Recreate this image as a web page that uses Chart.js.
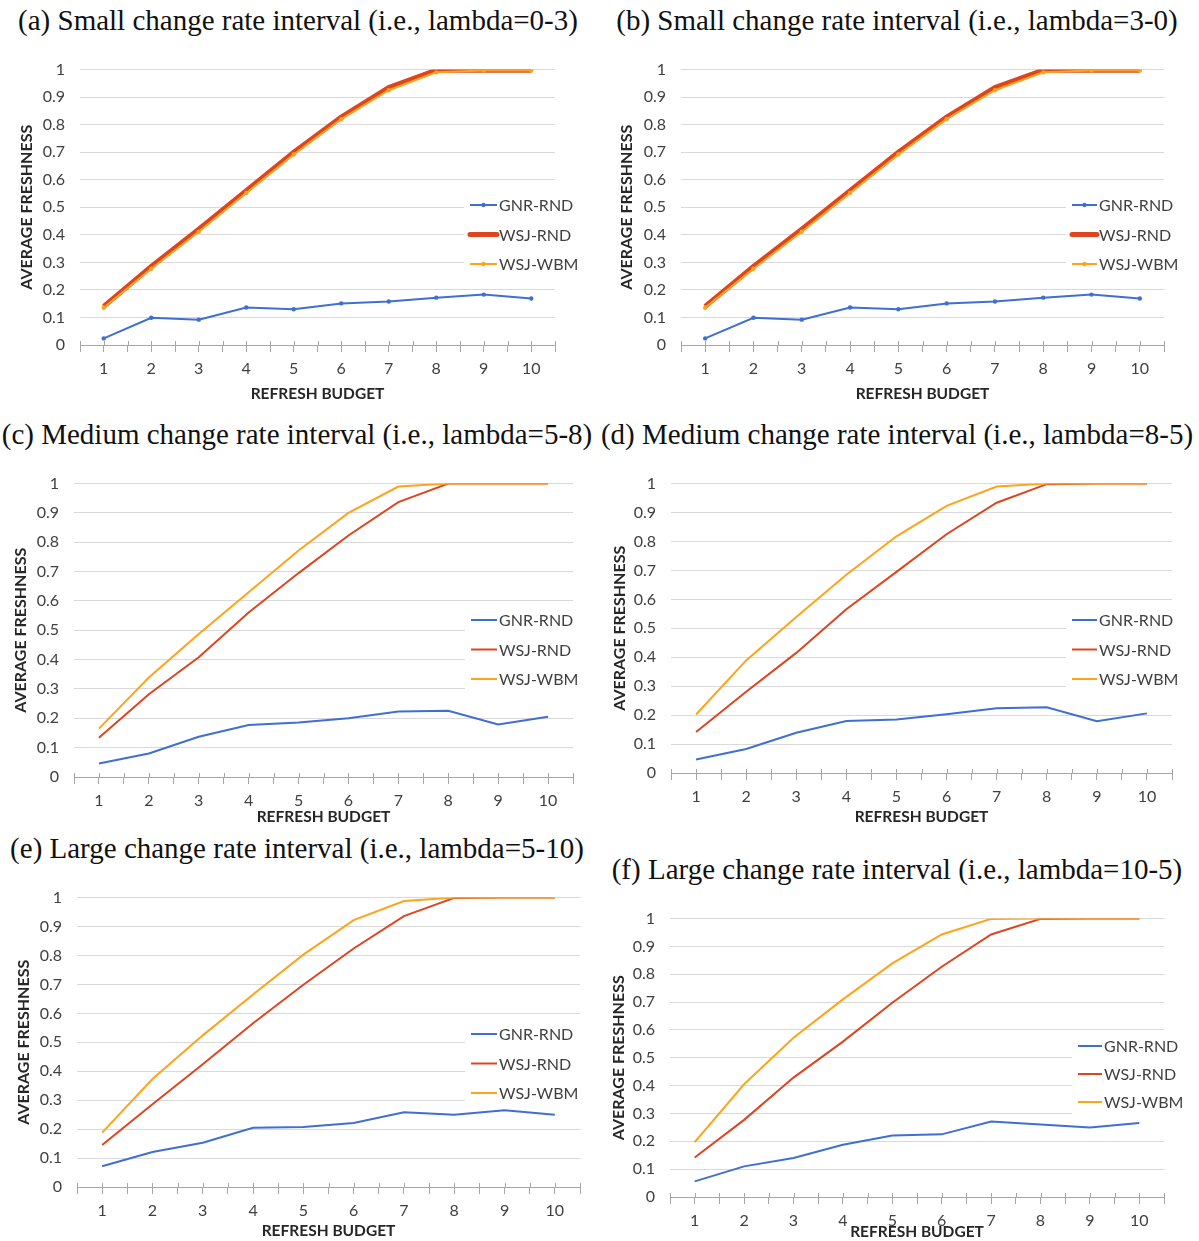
<!DOCTYPE html>
<html><head><meta charset="utf-8">
<script src="https://cdn.jsdelivr.net/npm/chart.js@4.4.1/dist/chart.umd.min.js"></script>
<style>
html,body{margin:0;padding:0;background:#fff;}
#wrap{position:relative;width:1199px;height:1241px;overflow:hidden;background:#fff;}
.ttl{position:absolute;font-family:"Liberation Serif","Times New Roman",serif;font-size:29px;color:#111;white-space:nowrap;transform:translate(-50%,-50%);line-height:1;}
canvas{position:absolute;}
</style></head><body><div id="wrap"></div>
<script>
// ---------- DATA ----------
const categories = [1, 2, 3, 4, 5, 6, 7, 8, 9, 10];
const yTickLabels = ['0', '0.1', '0.2', '0.3', '0.4', '0.5', '0.6', '0.7', '0.8', '0.9', '1'];
const seriesNames = ['GNR-RND', 'WSJ-RND', 'WSJ-WBM'];
const panelTitles = [
  '(a) Small change rate interval (i.e., lambda=0-3)',
  '(b) Small change rate interval (i.e., lambda=3-0)',
  '(c) Medium change rate interval (i.e., lambda=5-8)',
  '(d) Medium change rate interval (i.e., lambda=8-5)',
  '(e) Large change rate interval (i.e., lambda=5-10)',
  '(f) Large change rate interval (i.e., lambda=10-5)'
];
const xAxisTitle = 'REFRESH BUDGET';
const yAxisTitle = 'AVERAGE FRESHNESS';

const gnrA    = [0.024, 0.099, 0.092, 0.136, 0.130, 0.151, 0.158, 0.172, 0.183, 0.169];
const wsjRndA = [0.140, 0.285, 0.420, 0.560, 0.700, 0.828, 0.935, 0.998, 0.998, 0.998];
const wsjWbmA = [0.135, 0.277, 0.411, 0.552, 0.692, 0.820, 0.925, 0.990, 0.997, 0.997];

const gnrB    = [0.024, 0.099, 0.092, 0.136, 0.130, 0.151, 0.158, 0.172, 0.183, 0.169];
const wsjRndB = [0.140, 0.285, 0.420, 0.560, 0.700, 0.828, 0.935, 0.998, 0.998, 0.998];
const wsjWbmB = [0.135, 0.277, 0.411, 0.552, 0.692, 0.820, 0.925, 0.990, 0.997, 0.997];

const gnrC    = [0.046, 0.080, 0.137, 0.177, 0.186, 0.200, 0.223, 0.226, 0.179, 0.205];
const wsjRndC = [0.134, 0.282, 0.408, 0.561, 0.695, 0.823, 0.937, 1.000, 1.000, 1.000];
const wsjWbmC = [0.165, 0.339, 0.487, 0.630, 0.772, 0.900, 0.990, 1.000, 1.000, 1.000];

const gnrD    = [0.047, 0.083, 0.139, 0.180, 0.185, 0.203, 0.224, 0.227, 0.179, 0.206];
const wsjRndD = [0.142, 0.281, 0.415, 0.566, 0.695, 0.825, 0.934, 0.998, 1.000, 1.000];
const wsjWbmD = [0.202, 0.389, 0.539, 0.685, 0.818, 0.923, 0.990, 1.000, 1.000, 1.000];

const gnrE    = [0.072, 0.121, 0.153, 0.205, 0.207, 0.221, 0.258, 0.250, 0.265, 0.250];
const wsjRndE = [0.145, 0.286, 0.424, 0.566, 0.699, 0.824, 0.936, 0.999, 1.000, 1.000];
const wsjWbmE = [0.188, 0.373, 0.524, 0.665, 0.803, 0.922, 0.988, 1.000, 1.000, 1.000];

const gnrF    = [0.056, 0.110, 0.140, 0.188, 0.221, 0.225, 0.271, 0.260, 0.250, 0.266];
const wsjRndF = [0.142, 0.277, 0.429, 0.558, 0.698, 0.827, 0.943, 0.999, 1.000, 1.000];
const wsjWbmF = [0.197, 0.405, 0.572, 0.710, 0.839, 0.943, 0.999, 1.000, 1.000, 1.000];

// ---------- STYLE / LAYOUT ----------
const COLORS = ['#3f6fd3', '#dd4520', '#ffa31a'];
const TEXT = '#404040';
const FONT = 'Lato, "Open Sans", sans-serif';
const TICK_FONT = 16;
const XTITLE_FONT = 15.5;
const YTITLE_FONT = 16;

const panels = [
  {title: panelTitles[0], tx: 298, ty: 20,  plot: {l: 80,  t: 69,  r: 555,  b: 345},  yTitleX: 27,  xTitleY: 394,  legX: 470,  legTxtX: 499,  legY: 205,  legDy: 29.5, thick: true,  data: [gnrA, wsjRndA, wsjWbmA]},
  {title: panelTitles[1], tx: 897, ty: 20,  plot: {l: 681, t: 69,  r: 1164, b: 345},  yTitleX: 627, xTitleY: 394,  legX: 1072, legTxtX: 1099, legY: 205,  legDy: 29.5, thick: true,  data: [gnrB, wsjRndB, wsjWbmB]},
  {title: panelTitles[2], tx: 297, ty: 434, plot: {l: 74,  t: 483, r: 573,  b: 777},  yTitleX: 21,  xTitleY: 817,  legX: 471,  legTxtX: 499,  legY: 620,  legDy: 29.5, thick: false, data: [gnrC, wsjRndC, wsjWbmC]},
  {title: panelTitles[3], tx: 897, ty: 434, plot: {l: 671, t: 483, r: 1172, b: 773},  yTitleX: 620, xTitleY: 817,  legX: 1072, legTxtX: 1099, legY: 620,  legDy: 29.5, thick: false, data: [gnrD, wsjRndD, wsjWbmD]},
  {title: panelTitles[4], tx: 297, ty: 848, plot: {l: 77,  t: 897, r: 583,  b: 1187}, yTitleX: 24,  xTitleY: 1231, legX: 471,  legTxtX: 499,  legY: 1034, legDy: 29.5, thick: false, data: [gnrE, wsjRndE, wsjWbmE]},
  {title: panelTitles[5], tx: 897, ty: 869, plot: {l: 670, t: 918, r: 1164, b: 1197}, yTitleX: 619, xTitleY: 1232, legX: 1078, legTxtX: 1104, legY: 1046, legDy: 28,   thick: false, data: [gnrF, wsjRndF, wsjWbmF]}
];

const wrap = document.getElementById('wrap');

const crossTicks = {
  id: 'crossTicks',
  afterDraw(chart) {
    const xs = chart.scales.x, ctx = chart.ctx, yb = chart.chartArea.bottom;
    ctx.save();
    ctx.strokeStyle = '#a6a6a6';
    ctx.lineWidth = 1;
    xs.ticks.forEach(t => {
      const px = Math.round(xs.getPixelForValue(t.value)) + 0.5;
      ctx.beginPath(); ctx.moveTo(px, yb - 4); ctx.lineTo(px, yb); ctx.stroke();
    });
    ctx.restore();
  }
};

const innerLegend = {
  id: 'innerLegend',
  beforeDatasetsDraw(chart, args, opts) {
    const ctx = chart.ctx;
    ctx.save();
    ctx.fillStyle = '#fff';
    const top = opts.y - 15, bot = opts.y + opts.dy * 2 + 14;
    ctx.fillRect(opts.x - 6, top, chart.width - (opts.x - 6), bot - top);
    ctx.restore();
  },
  afterDraw(chart, args, opts) {
    const ctx = chart.ctx;
    ctx.save();
    chart.data.datasets.forEach((ds, i) => {
      const y = opts.y + i * opts.dy;
      ctx.strokeStyle = ds.borderColor;
      ctx.lineWidth = ds.borderWidth;
      ctx.lineCap = ds.borderWidth > 3 ? 'round' : 'butt';
      ctx.beginPath(); ctx.moveTo(opts.x, y); ctx.lineTo(opts.txt - 2, y); ctx.stroke();
      if (ds.pointRadius > 0) {
        ctx.fillStyle = ds.borderColor;
        ctx.beginPath(); ctx.arc((opts.x + opts.txt - 2) / 2, y, ds.pointRadius, 0, Math.PI * 2); ctx.fill();
      }
      ctx.fillStyle = TEXT;
      ctx.font = TICK_FONT + 'px ' + FONT;
      ctx.textBaseline = 'middle';
      ctx.textAlign = 'left';
      ctx.fillText(ds.label, opts.txt, y + 1);
    });
    ctx.restore();
  }
};

panels.forEach(p => {
  const t = document.createElement('div');
  t.className = 'ttl';
  t.textContent = p.title;
  t.style.left = p.tx + 'px';
  t.style.top = p.ty + 'px';
  wrap.appendChild(t);

  const canvasTopGap = 24;
  const padTop = 4;
  const cLeft = Math.round(p.yTitleX - YTITLE_FONT * 1.2 / 2);
  const cTop = p.plot.t - canvasTopGap;
  const cRight = p.legTxtX + 88;
  const cBottom = Math.round(p.xTitleY + XTITLE_FONT * 1.2 / 2);
  const W = cRight - cLeft, H = cBottom - cTop;
  const yW = p.plot.l - cLeft;
  const xH = cBottom - p.plot.b;

  const cv = document.createElement('canvas');
  cv.width = W; cv.height = H;
  cv.style.left = cLeft + 'px'; cv.style.top = cTop + 'px';
  cv.style.width = W + 'px'; cv.style.height = H + 'px';
  wrap.appendChild(cv);

  const datasets = p.data.map((arr, i) => ({
    label: seriesNames[i],
    data: arr.map((v, k) => ({x: categories[k], y: v})),
    borderColor: COLORS[i],
    backgroundColor: COLORS[i],
    borderWidth: (p.thick && i === 1) ? 5 : 2,
    pointRadius: (p.thick && i !== 1) ? 2.2 : 0,
    pointBorderWidth: 0,
    tension: 0,
    fill: false,
    order: 2 - i
  }));

  new Chart(cv, {
    type: 'line',
    data: {datasets},
    plugins: [crossTicks, innerLegend],
    options: {
      responsive: false,
      animation: false,
      devicePixelRatio: 1,
      layout: {padding: {left: 0, top: padTop, right: cRight - p.plot.r, bottom: 0}},
      plugins: {
        legend: {display: false},
        tooltip: {enabled: false},
        innerLegend: {x: p.legX - cLeft, txt: p.legTxtX - cLeft, y: p.legY - cTop, dy: p.legDy}
      },
      scales: {
        x: {
          type: 'linear',
          min: categories[0] - 0.5,
          max: categories[categories.length - 1] + 0.5,
          afterFit(s) { s.height = xH; },
          border: {display: true, color: '#a6a6a6', width: 1},
          grid: {display: true, drawOnChartArea: false, drawTicks: true, tickLength: 7, color: '#a6a6a6'},
          ticks: {
            stepSize: 0.5, autoSkip: false, maxRotation: 0, padding: 7,
            color: TEXT, font: {family: FONT, size: TICK_FONT},
            callback: (v) => Number.isInteger(v) ? String(categories[v - 1]) : ''
          },
          title: {display: true, text: xAxisTitle, color: '#262626', padding: 0,
                  font: {family: FONT, size: XTITLE_FONT, weight: 'bold', lineHeight: 1.2}}
        },
        y: {
          min: 0, max: 1,
          afterFit(s) { s.width = yW; },
          border: {display: false},
          grid: {color: '#d9d9d9', lineWidth: 1, drawTicks: false},
          ticks: {
            stepSize: 0.1, padding: 15, color: TEXT, font: {family: FONT, size: TICK_FONT},
            callback: (v, i) => yTickLabels[i]
          },
          title: {display: true, text: yAxisTitle, color: '#262626', padding: 0,
                  font: {family: FONT, size: YTITLE_FONT, weight: 'bold', lineHeight: 1.2}}
        }
      }
    }
  });
});
</script>
</body></html>
